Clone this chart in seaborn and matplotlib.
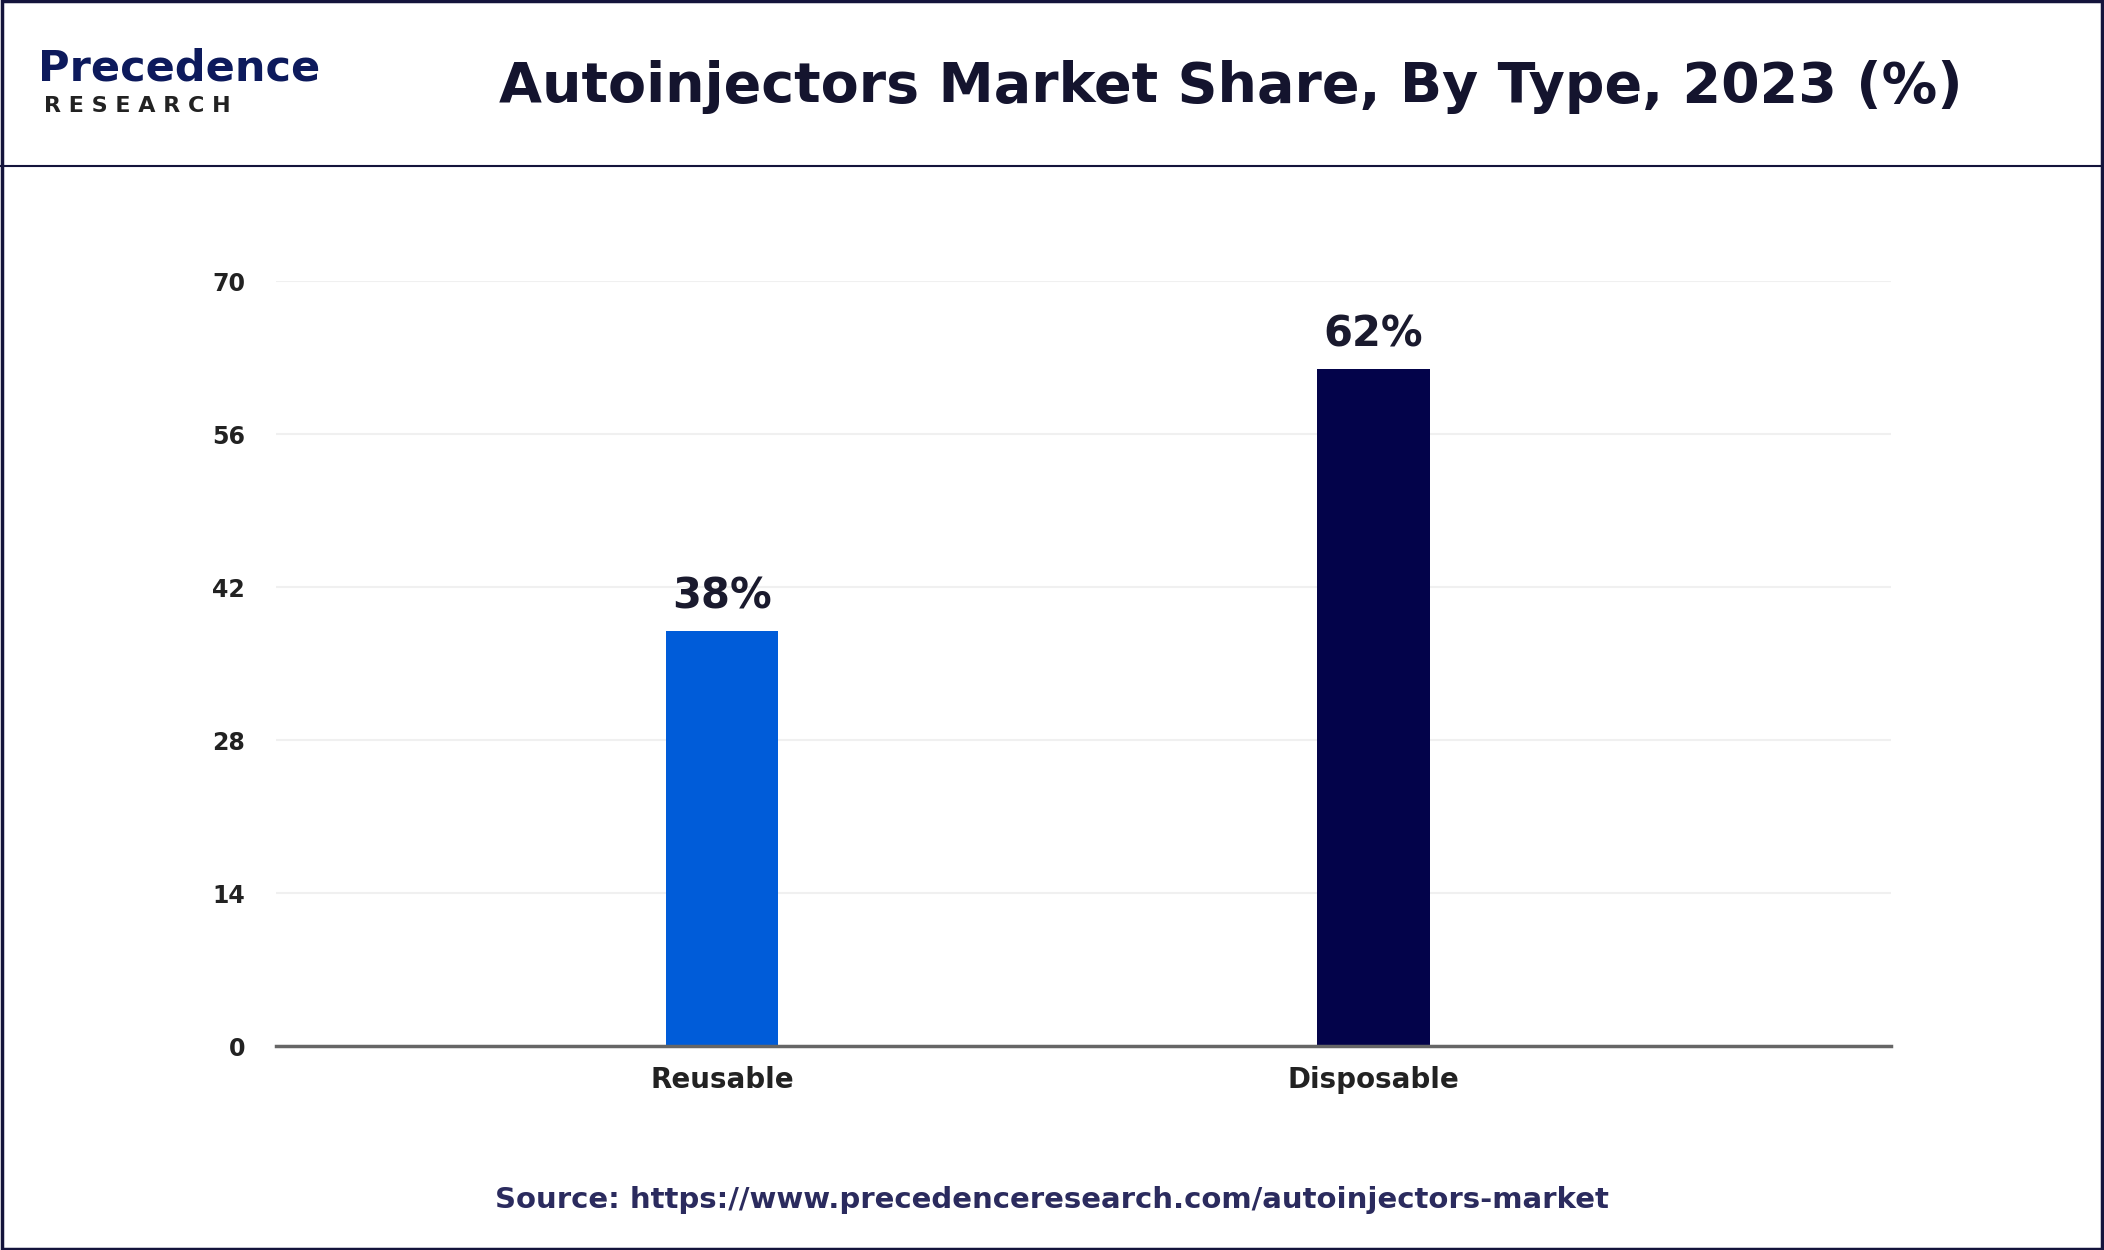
import matplotlib
matplotlib.use("Agg")
import matplotlib.pyplot as plt
import seaborn as sns
import pandas as pd
from matplotlib.patches import Rectangle
from matplotlib.lines import Line2D

categories = ["Reusable", "Disposable"]
shares = [38, 62]
bar_labels = ["38%", "62%"]
yticks = [0, 14, 28, 42, 56, 70]
colors = ["#005cd9", "#03034a"]

df = pd.DataFrame({"type": categories, "share": shares})

fig = plt.figure(figsize=(21.04, 12.5), dpi=100)
fig.patch.set_facecolor("white")
ax = fig.add_axes([0.131, 0.163, 0.768, 0.612])

sns.barplot(data=df, x="type", y="share", hue="type", palette=colors,
            width=0.173, legend=False, ax=ax, saturation=1)
ax.set_xlim(-0.685, 1.795)
ax.set_ylim(0, 70)
ax.set_yticks(yticks)
ax.set_yticklabels([str(t) for t in yticks], fontsize=17, fontweight="bold", color="#222222")
ax.set_xticks(range(len(categories)))
ax.set_xticklabels(categories, fontsize=20, fontweight="bold", color="#222222")
ax.tick_params(length=0, pad=22)
ax.tick_params(axis="x", pad=14)
ax.set_xlabel("")
ax.set_ylabel("")
ax.grid(axis="y", color="#f0f0f0", linewidth=1.5)
ax.set_axisbelow(True)
for s in ["top", "right", "left"]:
    ax.spines[s].set_visible(False)
ax.spines["bottom"].set_color("#666666")
ax.spines["bottom"].set_linewidth(2.5)

for i, (v, lab) in enumerate(zip(shares, bar_labels)):
    ax.text(i, v + 1.2, lab, ha="center", va="bottom", fontsize=30,
            fontweight="bold", color="#1a1a2e")

# header
fig.text(0.585, 0.93, "Autoinjectors Market Share, By Type, 2023 (%)", ha="center",
         va="center", fontsize=40, fontweight="bold", color="#14142e")
fig.text(0.018, 0.945, "Precedence", ha="left", va="center", fontsize=31,
         color="#0d1a5c", fontweight="bold")
fig.text(0.021, 0.915, "R E S E A R C H", ha="left", va="center", fontsize=16,
         color="#222222", fontweight="bold")
fig.add_artist(Line2D([0, 1], [0.867, 0.867], color="#14143c", linewidth=1.5))
fig.add_artist(Rectangle((0.001, 0.001), 0.998, 0.998, fill=False,
                         edgecolor="#14143c", linewidth=2.5, transform=fig.transFigure))

fig.text(0.5, 0.04, "Source: https://www.precedenceresearch.com/autoinjectors-market",
         ha="center", va="center", fontsize=21, fontweight="bold", color="#2b2b5e")

fig.savefig("out.png", dpi=100)
